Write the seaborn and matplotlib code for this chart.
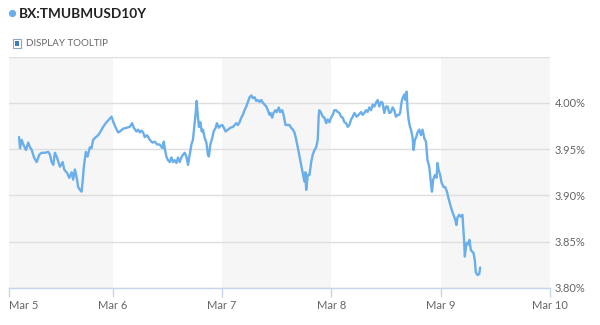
import matplotlib
matplotlib.use("Agg")
import matplotlib.pyplot as plt
from matplotlib.patches import Rectangle
from matplotlib.lines import Line2D
import seaborn as sns
import pandas as pd

# ---- data (days since Mar 5 00:00, yield in %) ----
times = [
    0.142, 0.151, 0.166, 0.181, 0.205, 0.226, 0.242, 0.258, 0.279, 0.303,
    0.327, 0.349, 0.379, 0.409, 0.425, 0.440, 0.455, 0.470, 0.486, 0.516,
    0.541, 0.555, 0.583, 0.601, 0.623, 0.637, 0.653, 0.668, 0.683, 0.699,
    0.714, 0.723, 0.735, 0.753, 0.769, 0.790, 0.805, 0.820, 0.845, 0.866,
    0.888, 0.911, 0.942, 0.973, 0.988, 1.009, 1.027, 1.048,
    1.064, 1.094, 1.125, 1.155, 1.176, 1.192, 1.216, 1.231, 1.247, 1.262,
    1.277, 1.292, 1.313, 1.338, 1.363, 1.384, 1.405, 1.429, 1.454, 1.466,
    1.478, 1.490, 1.505, 1.521, 1.536, 1.551, 1.566, 1.582, 1.596, 1.612,
    1.627, 1.642, 1.658, 1.673, 1.688, 1.703, 1.719, 1.733, 1.749, 1.758,
    1.767, 1.779, 1.788, 1.801, 1.813, 1.825, 1.840, 1.856, 1.870, 1.879,
    1.892, 1.910, 1.922, 1.941, 1.952, 1.971, 1.983, 2.002, 2.016, 2.032,
    2.053, 2.075, 2.099, 2.130, 2.144, 2.160, 2.175, 2.190, 2.205, 2.221,
    2.236, 2.251, 2.267, 2.281, 2.297, 2.312, 2.327, 2.342, 2.358, 2.373,
    2.388, 2.404, 2.418, 2.434, 2.443, 2.458, 2.470, 2.488, 2.500, 2.519,
    2.531, 2.550, 2.562, 2.580, 2.601, 2.616, 2.632, 2.647, 2.662, 2.678,
    2.692, 2.708, 2.723, 2.738, 2.753, 2.762, 2.769, 2.784, 2.799, 2.815,
    2.829, 2.845, 2.860, 2.875, 2.884, 2.890, 2.906, 2.921, 2.936, 2.952,
    2.966, 2.982, 2.997, 3.012, 3.027, 3.043, 3.058, 3.073, 3.089, 3.103,
    3.119, 3.134, 3.149, 3.164, 3.180, 3.195, 3.210, 3.231, 3.249, 3.271,
    3.286, 3.301, 3.317, 3.331, 3.347, 3.363, 3.377, 3.393, 3.408, 3.423,
    3.438, 3.454, 3.468, 3.484, 3.500, 3.514, 3.530, 3.545, 3.560, 3.575,
    3.591, 3.605, 3.621, 3.630, 3.642, 3.651, 3.667, 3.676, 3.688, 3.697,
    3.706, 3.719, 3.728, 3.742, 3.752, 3.764, 3.776, 3.788, 3.804, 3.819,
    3.834, 3.849, 3.865, 3.879, 3.895, 3.910, 3.920, 3.931, 3.947, 3.962,
    3.971, 3.980, 3.995, 4.007, 4.026, 4.041, 4.057, 4.071, 4.087, 4.102,
    4.117, 4.132, 4.144, 4.153, 4.169, 4.184, 4.199, 4.208, 4.215, 4.221,
    4.230, 4.239, 4.251, 4.263, 4.276, 4.290, 4.300, 4.312, 4.321, 4.336,
    4.352, 4.361,
]
values = [
    3.963, 3.951, 3.960, 3.955, 3.949, 3.957, 3.952, 3.949, 3.941, 3.936,
    3.944, 3.946, 3.946, 3.947, 3.944, 3.936, 3.933, 3.946, 3.942, 3.931,
    3.936, 3.928, 3.924, 3.919, 3.925, 3.917, 3.928, 3.920, 3.909, 3.906,
    3.904, 3.914, 3.931, 3.947, 3.942, 3.952, 3.951, 3.960, 3.963, 3.965,
    3.969, 3.974, 3.979, 3.983, 3.985, 3.978, 3.973, 3.968,
    3.969, 3.972, 3.973, 3.974, 3.978, 3.973, 3.969, 3.971, 3.968, 3.970,
    3.968, 3.963, 3.965, 3.960, 3.957, 3.958, 3.955, 3.955, 3.951, 3.958,
    3.949, 3.942, 3.938, 3.936, 3.941, 3.936, 3.938, 3.935, 3.941, 3.936,
    3.941, 3.944, 3.946, 3.942, 3.933, 3.944, 3.955, 3.960, 3.978, 3.989,
    4.002, 3.984, 3.974, 3.979, 3.969, 3.971, 3.962, 3.957, 3.944, 3.942,
    3.955, 3.962, 3.969, 3.973, 3.978, 3.973, 3.975, 3.976, 3.973, 3.969,
    3.971, 3.973, 3.974, 3.978, 3.976, 3.979, 3.984, 3.987, 3.992, 3.996,
    4.001, 4.006, 4.008, 4.005, 4.006, 4.002, 4.003, 4.001, 4.003, 4.000,
    3.998, 3.996, 3.992, 3.987, 3.989, 3.984, 3.989, 3.992, 3.990, 3.995,
    3.990, 3.992, 3.987, 3.976, 3.976, 3.976, 3.973, 3.971, 3.968, 3.960,
    3.952, 3.942, 3.933, 3.924, 3.915, 3.925, 3.906, 3.922, 3.922, 3.936,
    3.944, 3.949, 3.952, 3.960, 3.987, 3.992, 3.989, 3.985, 3.984, 3.978,
    3.982, 3.979, 3.984, 3.987, 3.992, 3.992, 3.990, 3.989, 3.985, 3.984,
    3.979, 3.978, 3.974, 3.976, 3.982, 3.985, 3.989, 3.985, 3.987, 3.990,
    3.987, 3.989, 3.992, 3.990, 3.995, 3.992, 3.998, 3.996, 4.000, 4.003,
    3.996, 4.001, 4.000, 3.989, 3.996, 3.996, 3.989, 3.990, 3.995, 3.992,
    3.985, 3.987, 3.987, 3.990, 4.001, 4.005, 4.009, 4.003, 4.012, 3.992,
    3.982, 3.974, 3.971, 3.963, 3.949, 3.960, 3.963, 3.968, 3.971, 3.965,
    3.971, 3.962, 3.958, 3.938, 3.931, 3.914, 3.904, 3.917, 3.922, 3.919,
    3.935, 3.928, 3.922, 3.914, 3.909, 3.909, 3.904, 3.897, 3.890, 3.884,
    3.879, 3.874, 3.868, 3.876, 3.879, 3.877, 3.879, 3.863, 3.849, 3.834,
    3.844, 3.849, 3.847, 3.852, 3.841, 3.839, 3.838, 3.830, 3.817, 3.814,
    3.815, 3.822,
]
tick_days = [1, 2, 3, 4, 5]
tick_labels = ["Mar 5", "Mar 6", "Mar 7", "Mar 8", "Mar 9", "Mar 10"]
y_ticks = [3.80, 3.85, 3.90, 3.95, 4.00, 4.05]
title = "BX:TMUBMUSD10Y"
tooltip_label = "DISPLAY TOOLTIP"

sns.set_style("white")
plt.rcParams["font.family"] = ["Lato", "DejaVu Sans"]

LINE = "#6aaeea"
AXIS = "#c6d6ea"
GRID = "#dedede"
TXT = "#666666"

W, H = 600, 325
fig = plt.figure(figsize=(6, 3.25), dpi=100)
left_px, right_px, top_px, bot_px = 9, 550, 56.5, 288
ax = fig.add_axes([left_px / W, 1 - bot_px / H, (right_px - left_px) / W, (bot_px - top_px) / H])

x0, x1 = 0.05, 5.0
# alternating day bands
for d0, d1 in [(x0, 1), (2, 3), (4, 5)]:
    ax.axvspan(d0, d1, color="#f6f6f6", zorder=0, lw=0)

df = pd.DataFrame({"day": times, "yield": values})
sns.lineplot(data=df, x="day", y="yield", ax=ax, color=LINE, lw=1.7,
             estimator=None, zorder=3)

ax.set_xlim(x0, x1)
ax.set_ylim(3.80, 4.05)
ax.set_xlabel("")
ax.set_ylabel("")

ax.set_yticks(y_ticks)
ax.set_yticklabels([f"{v:.2f}%" if v < 4.04 else "" for v in y_ticks])
ax.yaxis.tick_right()
ax.tick_params(axis="y", length=0, pad=3.5, labelsize=8, labelcolor=TXT)
ax.grid(axis="y", color=GRID, lw=1, zorder=1)
ax.grid(axis="x", visible=False)

ax.set_xticks([x0] + tick_days)
ax.set_xticklabels(tick_labels)
ax.get_xticklabels()[0].set_horizontalalignment("left")
ax.tick_params(axis="x", direction="out", length=6.5, width=1, color=AXIS,
               pad=2, labelsize=8, labelcolor=TXT, bottom=True)

for s in ["left", "right", "top"]:
    ax.spines[s].set_visible(False)
ax.spines["bottom"].set_color(AXIS)
ax.spines["bottom"].set_linewidth(1)
ax.spines["bottom"].set_zorder(4)

# header
fig.add_artist(Line2D([11.7 / W], [1 - 13 / H], marker="o", markersize=4.2,
                      color=LINE, transform=fig.transFigure))
fig.text(19 / W, 1 - 13.5 / H, title, fontsize=9.8, fontweight="bold",
         color="#222222", va="center", ha="left")
fig.add_artist(Rectangle((12.5 / W, 1 - 47.5 / H), 8.5 / W, 8.5 / H,
                         transform=fig.transFigure, facecolor="white",
                         edgecolor="#8aa6cc", lw=0.8))
fig.add_artist(Rectangle((14.5 / W, 1 - 45.5 / H), 4.5 / W, 4.5 / H,
                         transform=fig.transFigure, facecolor="#3f7cc2",
                         edgecolor="none"))
fig.text(26 / W, 1 - 43.5 / H, tooltip_label, fontsize=7, color=TXT,
         va="center", ha="left")

fig.savefig("out.png", dpi=100)
